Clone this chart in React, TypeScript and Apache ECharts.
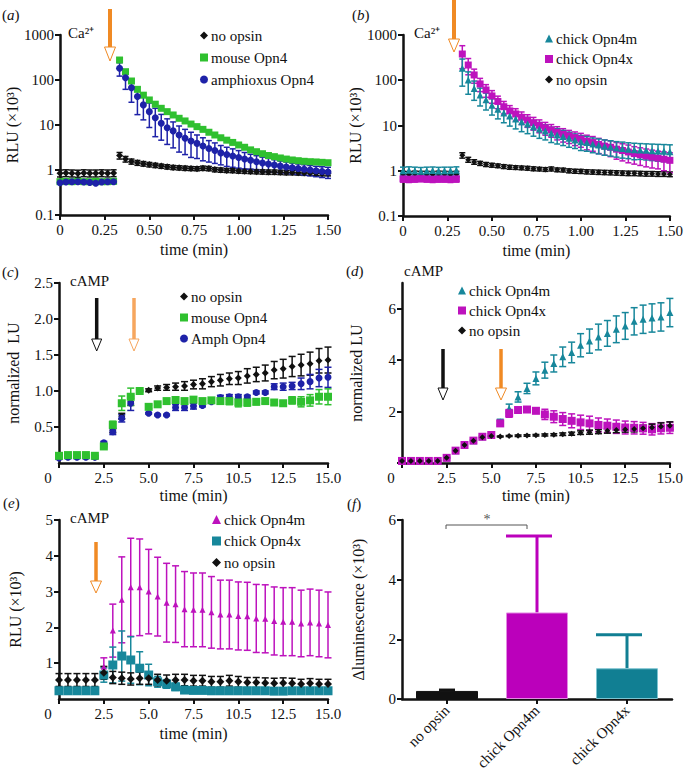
import React, { useEffect, useRef } from 'react';
import * as echarts from 'echarts';

const SERIF = '"Liberation Serif", "Times New Roman", Times, serif';
const INK = '#111111';
const GREEN = '#2fc02f';
const BLUE = '#1e22a8';
const TEAL = '#17879b';
const MAGENTA = '#bd12bd';
const ORANGE = '#f08a24';
const ORANGE_LIGHT = '#f6a65e';

// ---------- time grids ----------
const secsAB = [0, 2, 4, 6, 8, 10, 12, 14, 16, 18, 20, 22, 24, 26, 28, 30, 32, 34, 36, 38, 40, 42, 44, 46, 48, 50, 52, 54, 56, 58, 60, 62, 64, 66, 68, 70, 72, 74, 76, 78, 80, 82, 84, 86, 88, 90];
const minsCDE = [0, 0.5, 1, 1.5, 2, 2.5, 3, 3.5, 4, 4.5, 5, 5.5, 6, 6.5, 7, 7.5, 8, 8.5, 9, 9.5, 10, 10.5, 11, 11.5, 12, 12.5, 13, 13.5, 14, 14.5, 15];

// ---------- tick labels ----------
const xTicksAB = [0, 0.25, 0.5, 0.75, 1, 1.25, 1.5];
const xLabelsAB = ['0', '0.25', '0.50', '0.75', '1.00', '1.25', '1.50'];
const xTicksCDE = [0, 2.5, 5, 7.5, 10, 12.5, 15];
const xLabelsCDE = ['0', '2.5', '5.0', '7.5', '10.5', '12.5', '15.0'];
const yLogTicks = [0.1, 1, 10, 100, 1000];
const yLogLabels = ['0.1', '1', '10', '100', '1000'];

// ---------- panel (a) ----------
const aNoOpsin = [0.85, 0.86, 0.85, 0.84, 0.86, 0.85, 0.85, 0.86, 0.85, 0.86, 2.1, 1.75, 1.55, 1.45, 1.38, 1.32, 1.27, 1.22, 1.18, 1.14, 1.12, 1.1, 1.08, 1.07, 1.1, 1.08, 1.02, 1.0, 0.98, 0.97, 0.95, 0.94, 0.93, 0.92, 0.91, 0.9, 0.9, 0.89, 0.88, 0.88, 0.87, 0.86, 0.86, 0.85, 0.84, 0.84];
const aNoOpsinErr = [0.15, 0.15, 0.15, 0.15, 0.15, 0.15, 0.15, 0.15, 0.15, 0.15, 0.35, 0.25, 0.2, 0.18, 0.16, 0.15, 0.14, 0.13, 0.13, 0.12, 0.12, 0.12, 0.11, 0.11, 0.12, 0.12, 0.11, 0.11, 0.1, 0.1, 0.1, 0.1, 0.1, 0.1, 0.1, 0.1, 0.1, 0.1, 0.1, 0.1, 0.1, 0.1, 0.1, 0.1, 0.1, 0.1];
const aMouse = [0.55, 0.56, 0.55, 0.56, 0.55, 0.55, 0.56, 0.55, 0.55, 0.56, 278, 153, 95, 62, 46, 36, 29, 23.5, 19.8, 16.7, 14.1, 12.3, 10.5, 9.2, 8.0, 6.9, 6.0, 5.2, 4.6, 4.1, 3.6, 3.2, 2.8, 2.55, 2.3, 2.1, 1.98, 1.85, 1.75, 1.67, 1.61, 1.56, 1.53, 1.51, 1.48, 1.45];
const aAmph = [0.52, 0.54, 0.55, 0.55, 0.54, 0.53, 0.51, 0.54, 0.55, 0.55, 182, 112, 67, 43, 28, 19.8, 14.5, 10.9, 8.7, 7.4, 6.0, 5.1, 4.4, 3.9, 3.4, 3.0, 2.7, 2.4, 2.2, 2.05, 1.9, 1.75, 1.64, 1.53, 1.43, 1.36, 1.29, 1.22, 1.17, 1.12, 1.08, 1.04, 1.0, 0.96, 0.93, 0.9];
const aAmphErr = [0.03, 0.03, 0.03, 0.03, 0.03, 0.03, 0.03, 0.03, 0.03, 0.03, 60, 50, 35, 26, 15, 11, 9, 6.3, 5, 4.3, 3.5, 2.9, 2.5, 2.1, 1.8, 1.5, 1.3, 1.1, 1.0, 0.9, 0.8, 0.7, 0.6, 0.55, 0.5, 0.45, 0.4, 0.36, 0.33, 0.3, 0.28, 0.27, 0.26, 0.25, 0.25, 0.25];

// ---------- panel (b) ----------
const bOpn4m = [1.0, 1.02, 1.0, 0.98, 1.0, 1.01, 0.99, 1.0, 1.0, 1.02, 184, 101, 66, 47, 37, 28, 23, 19, 16.2, 13.9, 12.1, 10.8, 9.4, 8.4, 7.6, 6.7, 6.2, 5.7, 5.2, 4.8, 4.4, 4.2, 3.9, 3.7, 3.5, 3.35, 3.2, 3.1, 3.0, 2.9, 2.88, 2.83, 2.78, 2.73, 2.69, 2.64];
const bOpn4mErr = [0.2, 0.2, 0.2, 0.2, 0.2, 0.2, 0.2, 0.2, 0.2, 0.2, 110, 52, 30, 20, 15, 11, 9, 7.5, 6.5, 5.5, 4.8, 4.2, 3.6, 3.2, 2.8, 2.5, 2.3, 2.1, 1.9, 1.7, 1.6, 1.5, 1.4, 1.35, 1.3, 1.25, 1.2, 1.2, 1.15, 1.15, 1.1, 1.1, 1.1, 1.1, 1.1, 1.1];
const bOpn4x = [0.66, 0.65, 0.66, 0.67, 0.66, 0.65, 0.66, 0.66, 0.65, 0.66, 380, 217, 131, 83, 61, 45, 34, 26, 21, 18, 15.2, 13.2, 11.5, 10.1, 8.9, 8.0, 7.1, 6.4, 5.9, 5.4, 5.0, 4.5, 4.2, 3.8, 3.5, 3.3, 3.0, 2.8, 2.6, 2.4, 2.26, 2.12, 2.0, 1.9, 1.8, 1.7];
const bOpn4xErr = [0.1, 0.1, 0.1, 0.1, 0.1, 0.1, 0.1, 0.1, 0.1, 0.1, 200, 85, 45, 27, 19, 14, 10.5, 8, 6.5, 5.5, 4.7, 4.1, 3.6, 3.2, 2.8, 2.5, 2.3, 2.1, 1.9, 1.8, 1.7, 1.6, 1.5, 1.4, 1.3, 1.25, 1.2, 1.15, 1.1, 1.0, 0.95, 0.9, 0.85, 0.8, 0.8, 0.8];
const bNoOpsin = [0.85, 0.84, 0.86, 0.85, 0.85, 0.84, 0.86, 0.85, 0.84, 0.85, 2.2, 1.76, 1.57, 1.46, 1.38, 1.33, 1.29, 1.24, 1.2, 1.18, 1.16, 1.14, 1.11, 1.09, 1.07, 1.1, 1.05, 1.04, 1.0, 0.98, 0.97, 0.95, 0.94, 0.93, 0.92, 0.91, 0.9, 0.89, 0.88, 0.88, 0.87, 0.86, 0.86, 0.85, 0.85, 0.84];
const bNoOpsinErr = [0.12, 0.12, 0.12, 0.12, 0.12, 0.12, 0.12, 0.12, 0.12, 0.12, 0.3, 0.22, 0.18, 0.15, 0.14, 0.13, 0.12, 0.12, 0.12, 0.11, 0.11, 0.11, 0.11, 0.1, 0.1, 0.11, 0.1, 0.1, 0.1, 0.1, 0.1, 0.1, 0.1, 0.1, 0.1, 0.1, 0.1, 0.1, 0.1, 0.1, 0.1, 0.1, 0.1, 0.1, 0.1, 0.1];

// ---------- panel (c) ----------
const cNoOpsin = [0.08, 0.09, 0.09, 0.09, 0.08, 0.25, 0.45, 0.65, 0.85, 1.0, 1.01, 1.04, 1.05, 1.06, 1.07, 1.09, 1.1, 1.13, 1.15, 1.17, 1.18, 1.21, 1.23, 1.25, 1.29, 1.31, 1.34, 1.36, 1.38, 1.42, 1.43];
const cNoOpsinErr = [0.02, 0.02, 0.02, 0.02, 0.02, 0.02, 0.03, 0.04, 0.05, 0.01, 0.02, 0.03, 0.04, 0.05, 0.06, 0.06, 0.07, 0.07, 0.08, 0.08, 0.09, 0.1, 0.1, 0.11, 0.12, 0.13, 0.14, 0.15, 0.16, 0.17, 0.18];
const cMouse = [0.1, 0.11, 0.11, 0.11, 0.1, 0.23, 0.53, 0.83, 0.92, 1.0, 0.78, 0.815, 0.86, 0.875, 0.86, 0.88, 0.86, 0.87, 0.86, 0.86, 0.84, 0.84, 0.85, 0.86, 0.84, 0.83, 0.87, 0.85, 0.87, 0.92, 0.92];
const cMouseErr = [0.03, 0.02, 0.02, 0.02, 0.02, 0.02, 0.05, 0.1, 0.12, 0.01, 0.02, 0.02, 0.03, 0.03, 0.03, 0.03, 0.03, 0.03, 0.04, 0.05, 0.06, 0.05, 0.04, 0.03, 0.03, 0.03, 0.05, 0.07, 0.08, 0.1, 0.11];
const cAmph = [0.07, 0.08, 0.08, 0.08, 0.08, 0.28, 0.435, 0.62, 0.83, 1.0, 0.69, 0.667, 0.667, 0.77, 0.77, 0.79, 0.8, 0.85, 0.91, 0.92, 0.92, 0.92, 0.98, 0.98, 1.06, 1.06, 1.07, 1.1, 1.13, 1.18, 1.19];
const cAmphErr = [0.02, 0.02, 0.02, 0.02, 0.02, 0.02, 0.04, 0.05, 0.1, 0.01, 0.01, 0.01, 0.01, 0.04, 0.04, 0.04, 0.02, 0.02, 0.03, 0.03, 0.03, 0.02, 0.02, 0.02, 0.04, 0.05, 0.05, 0.08, 0.1, 0.12, 0.14];

// ---------- panel (d) ----------
const dOpn4m = [0.08, 0.08, 0.08, 0.08, 0.08, 0.2, 0.48, 0.7, 0.87, 1.02, 1.09, 1.6, 2.12, 2.57, 2.9, 3.29, 3.61, 3.87, 4.13, 4.3, 4.58, 4.74, 4.9, 5.04, 5.2, 5.33, 5.51, 5.59, 5.64, 5.68, 5.85];
const dOpn4mErr = [0.02, 0.02, 0.02, 0.02, 0.02, 0.03, 0.03, 0.03, 0.03, 0.03, 0.05, 0.1, 0.17, 0.2, 0.2, 0.25, 0.31, 0.33, 0.38, 0.4, 0.45, 0.47, 0.5, 0.5, 0.52, 0.52, 0.53, 0.55, 0.55, 0.55, 0.55];
const dOpn4x = [0.08, 0.08, 0.08, 0.08, 0.08, 0.2, 0.48, 0.7, 0.87, 1.02, 1.09, 1.54, 1.93, 2.06, 2.08, 2.03, 1.89, 1.8, 1.71, 1.64, 1.58, 1.54, 1.48, 1.45, 1.41, 1.38, 1.37, 1.35, 1.31, 1.35, 1.37];
const dOpn4xErr = [0.02, 0.02, 0.02, 0.02, 0.02, 0.03, 0.03, 0.03, 0.03, 0.05, 0.06, 0.1, 0.15, 0.1, 0.08, 0.1, 0.2, 0.23, 0.25, 0.27, 0.28, 0.28, 0.27, 0.26, 0.26, 0.25, 0.24, 0.23, 0.22, 0.22, 0.22];
const dNoOpsin = [0.08, 0.08, 0.08, 0.08, 0.08, 0.2, 0.48, 0.7, 0.87, 1.0, 1.05, 1.03, 1.05, 1.06, 1.07, 1.08, 1.09, 1.1, 1.12, 1.14, 1.18, 1.2, 1.22, 1.25, 1.28, 1.3, 1.32, 1.35, 1.38, 1.42, 1.45];
const dNoOpsinErr = [0.02, 0.02, 0.02, 0.02, 0.02, 0.02, 0.02, 0.02, 0.02, 0.02, 0.02, 0.02, 0.02, 0.03, 0.03, 0.03, 0.04, 0.04, 0.05, 0.06, 0.07, 0.08, 0.08, 0.09, 0.1, 0.1, 0.11, 0.12, 0.13, 0.14, 0.15];

// ---------- panel (e) ----------
const eOpn4m = [0.25, 0.25, 0.25, 0.25, 0.25, 0.9, 1.91, 2.77, 3.12, 3.12, 3.0, 2.86, 2.69, 2.65, 2.51, 2.49, 2.49, 2.42, 2.36, 2.36, 2.32, 2.31, 2.25, 2.24, 2.18, 2.16, 2.16, 2.11, 2.14, 2.11, 2.07];
const eOpn4mErr = [0, 0, 0, 0, 0, 0.25, 0.74, 1.2, 1.37, 1.35, 1.18, 1.1, 1.1, 1.07, 1.05, 1.03, 1.03, 1.0, 0.96, 0.96, 0.95, 0.95, 0.95, 0.95, 0.95, 0.95, 0.95, 0.93, 0.93, 0.93, 0.92];
const eOpn4x = [0.23, 0.23, 0.23, 0.23, 0.23, 0.67, 0.95, 1.2, 1.09, 0.86, 0.67, 0.48, 0.42, 0.34, 0.25, 0.24, 0.24, 0.23, 0.23, 0.23, 0.23, 0.23, 0.23, 0.23, 0.22, 0.22, 0.23, 0.23, 0.23, 0.23, 0.23];
const eOpn4xErr = [0.02, 0.02, 0.02, 0.02, 0.02, 0.2, 0.5, 0.7, 0.65, 0.46, 0.3, 0.15, 0.12, 0.1, 0.05, 0.04, 0.04, 0.04, 0.04, 0.04, 0.04, 0.04, 0.04, 0.04, 0.04, 0.04, 0.04, 0.04, 0.04, 0.04, 0.04];
const eNoOpsin = [0.53, 0.53, 0.53, 0.53, 0.53, 0.73, 0.6, 0.58, 0.56, 0.58, 0.58, 0.53, 0.51, 0.53, 0.53, 0.51, 0.51, 0.48, 0.48, 0.51, 0.48, 0.46, 0.46, 0.45, 0.44, 0.45, 0.44, 0.42, 0.44, 0.42, 0.42];
const eNoOpsinErr = [0.18, 0.18, 0.18, 0.18, 0.18, 0.18, 0.17, 0.17, 0.17, 0.17, 0.17, 0.16, 0.16, 0.16, 0.16, 0.15, 0.15, 0.15, 0.15, 0.15, 0.15, 0.14, 0.14, 0.14, 0.14, 0.14, 0.14, 0.13, 0.13, 0.13, 0.13];

// ---------- panel (f) ----------
const fCategories = ['no opsin', 'chick Opn4m', 'chick Opn4x'];
const fValues = [0.27, 2.9, 1.03];
const fErrors = [0.03, 2.56, 1.12];

// ---------- helpers ----------
const labelBase = { color: INK, fontSize: 15, fontFamily: SERIF };
const nameStyle = { color: INK, fontSize: 16, fontFamily: SERIF };
const axisLine = { show: true, onZero: false, lineStyle: { color: INK, width: 2.5 } };
const axisTick = { show: true, length: 5, lineStyle: { color: INK, width: 2 } };

function tickLabel(ticks: number[], labels: string[], log = false) {
  return (v: number) => {
    for (let i = 0; i < ticks.length; i++) {
      const d = log ? Math.abs(Math.log10(v) - Math.log10(ticks[i])) : Math.abs(v - ticks[i]);
      if (d < 1e-6) return labels[i];
    }
    return '';
  };
}

function xAxisAB(g: number) {
  return {
    type: 'value', gridIndex: g, min: 0, max: 1.5, interval: 0.25,
    axisLine, axisTick, splitLine: { show: false },
    axisLabel: { ...labelBase, margin: 7, formatter: tickLabel(xTicksAB, xLabelsAB) },
    name: 'time (min)', nameLocation: 'middle', nameGap: 26, nameTextStyle: nameStyle,
  };
}
function xAxisCDE(g: number) {
  const f = tickLabel(xTicksCDE, xLabelsCDE);
  return {
    type: 'value', gridIndex: g, min: 0, max: 15, interval: 2.5,
    axisLine, axisTick, splitLine: { show: false },
    axisLabel: {
      ...labelBase, margin: 7,
      formatter: (v: number) => (Math.abs(v) < 1e-9 ? '{z|' + f(v) + '}' : f(v)),
      rich: { z: { ...labelBase, padding: [0, 22, 0, 0] } },
    },
    name: 'time (min)', nameLocation: 'middle', nameGap: 24, nameTextStyle: nameStyle,
  };
}
function yAxisLog(g: number) {
  return {
    type: 'log', logBase: 10, gridIndex: g, min: 0.1, max: 1000,
    axisLine, axisTick, splitLine: { show: false }, minorTick: { show: false },
    axisLabel: { ...labelBase, margin: 6, formatter: tickLabel(yLogTicks, yLogLabels, true) },
    name: 'RLU (×10³)', nameLocation: 'middle', nameGap: 37, nameTextStyle: nameStyle,
  };
}

function errRender(color: string, capL: number, capR: number, lw: number, both = true) {
  return (params: any, api: any) => {
    const x = api.value(0);
    const lo = api.value(1);
    const hi = api.value(2);
    if (!(hi > lo)) return null;
    const a = api.coord([x, hi]);
    const b = api.coord([x, lo]);
    const st = { stroke: color, lineWidth: lw };
    const children: any[] = [
      { type: 'line', shape: { x1: a[0], y1: a[1], x2: b[0], y2: b[1] }, style: st },
      { type: 'line', shape: { x1: a[0] - capL, y1: a[1], x2: a[0] + capR, y2: a[1] }, style: st },
    ];
    if (both) children.push({ type: 'line', shape: { x1: b[0] - capL, y1: b[1], x2: b[0] + capR, y2: b[1] }, style: st });
    return { type: 'group', children };
  };
}

function pointSeries(g: number, name: string, xs: number[], ys: number[], errs: number[] | null, color: string, symbol: string, size: number, cap = 3) {
  const out: any[] = [];
  if (errs) {
    out.push({
      type: 'custom', name: name + '|err', xAxisIndex: g, yAxisIndex: g, silent: true,
      data: xs.map((x, i) => [x, ys[i] - errs[i], ys[i] + errs[i]]),
      renderItem: errRender(color, cap, cap, 1.5),
    });
  }
  out.push({
    type: 'scatter', name, xAxisIndex: g, yAxisIndex: g, silent: true,
    data: xs.map((x, i) => [x, ys[i]]),
    symbol, symbolSize: size, itemStyle: { color, opacity: 1 },
  });
  return out;
}

function legend(left: number, top: number, names: string[], size = 8, gap = 6) {
  return {
    orient: 'vertical', left, top, padding: 0, itemGap: gap, itemWidth: size, itemHeight: size,
    selectedMode: false, data: names,
    formatter: (n: string) => n.split('|')[1],
    textStyle: { ...labelBase, lineHeight: 15, padding: [0, 0, 0, -2] },
  };
}

function arrow(x: number, yTop: number, yShaft: number, yTip: number, halfW: number, color: string, shaftW = 3.5) {
  return [
    { type: 'rect', shape: { x: x - shaftW / 2, y: yTop, width: shaftW, height: yShaft - yTop }, style: { fill: color } },
    { type: 'polygon', shape: { points: [[x - halfW, yShaft], [x + halfW, yShaft], [x, yTip]] }, style: { fill: '#ffffff', stroke: color, lineWidth: 1 } },
  ];
}

function text(x: number, y: number, t: string, extra: any = {}) {
  return {
    type: 'text', x, y,
    style: { text: t, fill: INK, fontSize: 15, fontFamily: SERIF, align: 'left', verticalAlign: 'middle', textAlign: 'left', textVerticalAlign: 'middle', ...extra },
  };
}
function panelLetter(x: number, y: number, letter: string) {
  return text(x, y, '({i|' + letter + '})', { rich: { i: { fontStyle: 'italic', fontSize: 15, fontFamily: SERIF, fill: INK } } });
}

function buildOption() {
  const tAB = secsAB.map((s) => s / 60);
  const t = minsCDE;

  const series: any[] = [
    // (a)
    ...pointSeries(0, 'a|no opsin', tAB, aNoOpsin, aNoOpsinErr, INK, 'diamond', 7),
    ...pointSeries(0, 'a|mouse Opn4', tAB, aMouse, null, GREEN, 'rect', 7),
    ...pointSeries(0, 'a|amphioxus Opn4', tAB, aAmph, aAmphErr, BLUE, 'circle', 7),
    // (b)
    ...pointSeries(1, 'b|no opsin', tAB, bNoOpsin, bNoOpsinErr, INK, 'diamond', 6),
    ...pointSeries(1, 'b|chick Opn4x', tAB, bOpn4x, bOpn4xErr, MAGENTA, 'rect', 7),
    ...pointSeries(1, 'b|chick Opn4m', tAB, bOpn4m, bOpn4mErr, TEAL, 'triangle', 7),
    // (c)
    ...pointSeries(2, 'c|no opsin', t, cNoOpsin, cNoOpsinErr, INK, 'diamond', 7, 3.5),
    ...pointSeries(2, 'c|Amph Opn4', t, cAmph, cAmphErr, BLUE, 'circle', 7, 3.5),
    ...pointSeries(2, 'c|mouse Opn4', t, cMouse, cMouseErr, GREEN, 'rect', 8, 3.5),
    // (d)
    ...pointSeries(3, 'd|chick Opn4m', t, dOpn4m, dOpn4mErr, TEAL, 'triangle', 7, 3.5),
    ...pointSeries(3, 'd|chick Opn4x', t, dOpn4x, dOpn4xErr, MAGENTA, 'rect', 8, 3.5),
    ...pointSeries(3, 'd|no opsin', t, dNoOpsin, dNoOpsinErr, INK, 'diamond', 6, 3.5),
    // (e)
    ...pointSeries(4, 'e|chick Opn4m', t, eOpn4m, eOpn4mErr, MAGENTA, 'triangle', 6, 3.5),
    ...pointSeries(4, 'e|chick Opn4x', t, eOpn4x, eOpn4xErr, TEAL, 'rect', 9, 3.5),
    ...pointSeries(4, 'e|no opsin', t, eNoOpsin, eNoOpsinErr, INK, 'diamond', 8, 3.5),
  ];

  const fColors = [INK, '#bb00bb', '#117f93'];
  const fBorders = [INK, '#e28ae2', '#7cc4d1'];
  series.push({
    type: 'bar', name: 'f|bars', xAxisIndex: 5, yAxisIndex: 5, silent: true, barWidth: 62,
    data: fValues.map((v, i) => ({ value: v, itemStyle: { color: fColors[i], borderColor: fBorders[i], borderWidth: 1 } })),
  });
  series.push({
    type: 'custom', name: 'f|err', xAxisIndex: 5, yAxisIndex: 5, silent: true,
    data: fValues.map((v, i) => [i, v, v + fErrors[i]]),
    renderItem: (params: any, api: any) => {
      const i = api.value(0);
      const a = api.coord([i, api.value(2)]);
      const b = api.coord([i, api.value(1)]);
      const color = fColors[i];
      const capL = i === 0 ? 8 : 31;
      const capR = i === 0 ? 8 : 15;
      const st = { stroke: color, lineWidth: 3 };
      return {
        type: 'group', children: [
          { type: 'line', shape: { x1: a[0], y1: a[1], x2: b[0], y2: b[1] }, style: st },
          { type: 'line', shape: { x1: a[0] - capL, y1: a[1], x2: a[0] + capR, y2: a[1] }, style: st },
        ],
      };
    },
  });

  const graphicEls: any[] = [
    panelLetter(2, 15, 'a'),
    panelLetter(352, 15, 'b'),
    panelLetter(2, 272, 'c'),
    panelLetter(346, 271, 'd'),
    panelLetter(3, 503, 'e'),
    panelLetter(347, 504, 'f'),
    text(68, 33, 'Ca²⁺'),
    text(414, 33, 'Ca²⁺'),
    text(70, 281, 'cAMP'),
    text(404, 271, 'cAMP'),
    text(70, 518, 'cAMP'),
    ...arrow(110, 9, 47, 61, 5.5, ORANGE, 4),
    ...arrow(454, 0, 39, 52, 5.5, ORANGE, 4),
    ...arrow(96.7, 298, 339, 351, 5, INK),
    ...arrow(134, 298, 339, 351, 5, ORANGE_LIGHT),
    ...arrow(443, 349, 388, 400, 5, INK),
    ...arrow(501, 349, 388, 400, 5.5, ORANGE),
    ...arrow(96, 542, 581, 593, 5.5, ORANGE),
    { type: 'polyline', shape: { points: [[446, 529], [446, 525], [527, 525], [527, 529]] }, style: { stroke: '#555555', lineWidth: 1, fill: 'none' } },
    text(487, 519, '*', { align: 'center', textAlign: 'center', fill: '#555555', fontSize: 14 }),
  ];

  return {
    animation: false,
    backgroundColor: '#ffffff',
    grid: [
      { left: 60, top: 35, width: 268, height: 180 },
      { left: 403, top: 35, width: 269, height: 181 },
      { left: 59, top: 283, width: 269, height: 180 },
      { left: 402, top: 283, width: 269, height: 180 },
      { left: 59, top: 520, width: 269, height: 179 },
      { left: 402, top: 520, width: 270, height: 179 },
    ],
    xAxis: [
      xAxisAB(0),
      xAxisAB(1),
      xAxisCDE(2),
      xAxisCDE(3),
      { ...xAxisCDE(4), nameGap: 26 },
      {
        type: 'category', gridIndex: 5, data: fCategories, boundaryGap: true,
        axisLine, axisTick: { ...axisTick, alignWithLabel: true },
        axisLabel: { ...labelBase, rotate: 45, margin: 9, interval: 0 },
      },
    ],
    yAxis: [
      yAxisLog(0),
      yAxisLog(1),
      {
        type: 'value', gridIndex: 2, min: 0, max: 2.5, interval: 0.5,
        axisLine, axisTick, splitLine: { show: false },
        axisLabel: { ...labelBase, margin: 6, showMinLabel: false, formatter: (v: number) => v.toFixed(1) },
        name: 'normalized  LU', nameLocation: 'middle', nameGap: 38, nameTextStyle: nameStyle,
      },
      {
        type: 'value', gridIndex: 3, min: 0, max: 7,
        axisLine, axisTick: { ...axisTick, customValues: [0, 2, 4, 6] }, splitLine: { show: false },
        axisLabel: { ...labelBase, margin: 6, customValues: [2, 4, 6] },
        name: 'normalized LU', nameLocation: 'middle', nameGap: 38, nameTextStyle: nameStyle,
      },
      {
        type: 'value', gridIndex: 4, min: 0, max: 5, interval: 1,
        axisLine, axisTick, splitLine: { show: false },
        axisLabel: { ...labelBase, margin: 6, showMinLabel: false },
        name: 'RLU (×10³)', nameLocation: 'middle', nameGap: 36, nameTextStyle: nameStyle,
      },
      {
        type: 'value', gridIndex: 5, min: 0, max: 6, interval: 2,
        axisLine, axisTick, splitLine: { show: false },
        axisLabel: { ...labelBase, margin: 6 },
        name: 'Δluminescence (×10³)', nameLocation: 'middle', nameGap: 36, nameTextStyle: nameStyle,
      },
    ],
    legend: [
      legend(200, 28, ['a|no opsin', 'a|mouse Opn4', 'a|amphioxus Opn4'], 8, 7),
      legend(545, 31, ['b|chick Opn4m', 'b|chick Opn4x', 'b|no opsin'], 8, 5.5),
      legend(180, 289, ['c|no opsin', 'c|mouse Opn4', 'c|Amph Opn4'], 8, 6),
      legend(458, 283, ['d|chick Opn4m', 'd|chick Opn4x', 'd|no opsin'], 8, 5),
      legend(212, 512, ['e|chick Opn4m', 'e|chick Opn4x', 'e|no opsin'], 9, 6.5),
    ],
    graphic: { elements: graphicEls },
    series,
  };
}

export default function App() {
  const ref = useRef<HTMLDivElement>(null);
  useEffect(() => {
    const chart = echarts.init(ref.current as HTMLDivElement, null, { renderer: 'svg' });
    chart.setOption(buildOption() as any);
    return () => chart.dispose();
  }, []);
  return <div ref={ref} style={{ position: 'absolute', left: 0, top: 0, width: 686, height: 773, background: '#ffffff' }} />;
}
